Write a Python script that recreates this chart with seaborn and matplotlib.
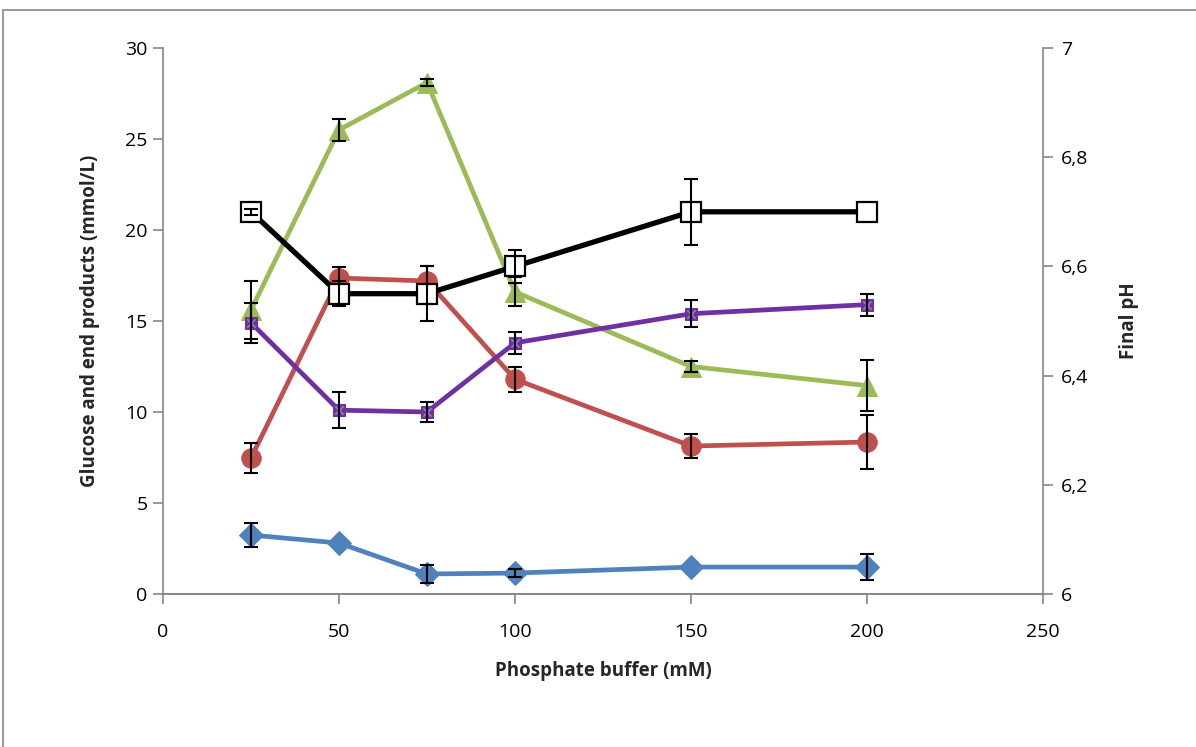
import numpy as np
import pandas as pd
import matplotlib
matplotlib.use("Agg")
import matplotlib.pyplot as plt
from matplotlib.patches import Rectangle
import seaborn as sns

buffer_mM = [25, 50, 75, 100, 150, 200]
glucose = [3.24, 2.8, 1.1, 1.15, 1.48, 1.48]
glucose_err = [0.65, 0.0, 0.5, 0.2, 0.0, 0.7]
lactate = [7.47, 17.36, 17.2, 11.8, 8.13, 8.35]
lactate_err = [0.8, 0.6, 0.8, 0.7, 0.67, 1.5]
green = [15.6, 25.5, 28.1, 16.6, 12.5, 11.45]
green_err = [1.6, 0.6, 0.2, 0.8, 0.3, 1.4]
purple = [14.9, 10.1, 10.0, 13.8, 15.4, 15.9]
purple_err = [1.1, 1.0, 0.55, 0.6, 0.75, 0.6]
final_ph = [6.70, 6.55, 6.55, 6.60, 6.70, 6.70]
final_ph_err = [0.005, 0.023, 0.05, 0.03, 0.06, 0.0]

x_ticks = [0, 50, 100, 150, 200, 250]
y_ticks = [0, 5, 10, 15, 20, 25, 30]
ph_ticks = [6.0, 6.2, 6.4, 6.6, 6.8, 7.0]
ph_labels = ["6", "6,2", "6,4", "6,6", "6,8", "7"]

sns.set_style("white")
plt.rcParams['font.family'] = ['Open Sans', 'DejaVu Sans']

fig = plt.figure(figsize=(11.96, 7.47), dpi=100)
ax = fig.add_axes([163/1196, 1-594/747, (1043-163)/1196, (594-48)/747])
ax2 = ax.twinx()

gray = "#868686"


def draw_err(a, xs, ys, es):
    xs, ys, es = np.asarray(xs), np.asarray(ys), np.asarray(es)
    m = es > 0
    a.errorbar(xs[m], ys[m], yerr=es[m], fmt="none", ecolor="black",
               elinewidth=1.5, capsize=5, capthick=1.5, zorder=5)


series = [
    (glucose, glucose_err, "#4F81BD", "D", 12),
    (lactate, lactate_err, "#C0504D", "o", 14),
    (green, green_err, "#9BBB59", "^", 15),
    (purple, purple_err, "#7030A0", "s", 9),
]
for vals, errs, col, mk, ms in series:
    df = pd.DataFrame({"x": buffer_mM, "y": vals})
    sns.lineplot(data=df, x="x", y="y", ax=ax, color=col, lw=3.4, marker=mk,
                 markersize=ms, markeredgecolor=col, zorder=3, legend=False)
    draw_err(ax, buffer_mM, vals, errs)
# x overlay on purple squares
ax.scatter(buffer_mM, purple, marker="x", s=36, color="#9B7BC0", lw=1.2, zorder=4)

dfp = pd.DataFrame({"x": buffer_mM, "y": final_ph})
sns.lineplot(data=dfp, x="x", y="y", ax=ax2, color="black", lw=3.8, marker="s",
             markersize=14, markerfacecolor="white", markeredgecolor="black",
             markeredgewidth=1.6, zorder=3, legend=False)
draw_err(ax2, buffer_mM, final_ph, final_ph_err)

ax.set_xlim(0, 250)
ax.set_ylim(0, 30)
ax2.set_ylim(6, 7)
ax.set_xticks(x_ticks)
ax.set_yticks(y_ticks)
ax2.set_yticks(ph_ticks)
ax2.set_yticklabels(ph_labels)

for a in (ax, ax2):
    for s in a.spines.values():
        s.set_color(gray)
        s.set_linewidth(1.2)
    a.spines["top"].set_visible(False)
    a.tick_params(colors="black", labelsize=14, length=7, width=1.2, color=gray,
                  direction="out")
ax.spines["right"].set_visible(False)
ax2.spines["left"].set_visible(False)
ax.tick_params(axis="x", bottom=True, pad=14)
ax.tick_params(axis="y", left=True, pad=4)
ax2.tick_params(axis="y", right=True, pad=6)

ax.set_xlabel("Phosphate buffer (mM)", fontsize=13.5, fontweight="bold", labelpad=14)
ax.set_ylabel("Glucose and end products (mmol/L)", fontsize=13.5, fontweight="bold", labelpad=18)
ax2.set_ylabel("Final pH", fontsize=13.5, fontweight="bold", labelpad=22)
ax2.set_zorder(ax.get_zorder() + 1)
ax2.patch.set_visible(False)

fig.patches.append(Rectangle((3/1196, -0.05), 1.1, 1 - 10/747 + 0.05,
                             transform=fig.transFigure, fill=False,
                             edgecolor=gray, lw=1.2))

fig.savefig("out.png", dpi=100)
